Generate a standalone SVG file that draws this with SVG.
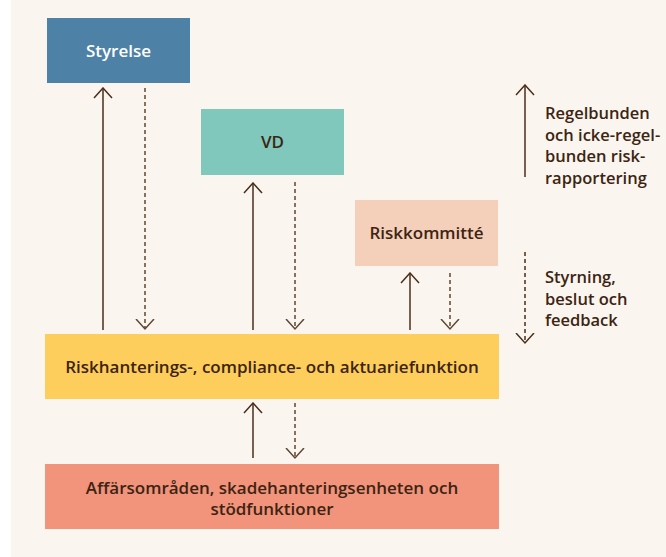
<svg xmlns="http://www.w3.org/2000/svg" width="666" height="557" viewBox="0 0 666 557">
<defs>
<marker id="headS" viewBox="0 0 12 20" refX="10.5" refY="10" markerWidth="12" markerHeight="20" markerUnits="userSpaceOnUse" orient="auto">
<path d="M0.5,1 L10.5,10 L0.5,19" fill="none" stroke="#4a2e1a" stroke-width="1.5"/>
</marker>
<marker id="headD" viewBox="0 0 12 20" refX="10.5" refY="10" markerWidth="12" markerHeight="20" markerUnits="userSpaceOnUse" orient="auto">
<path d="M0.5,1 L10.5,10 L0.5,19" fill="none" stroke="#5e4633" stroke-width="1.5"/>
</marker>
</defs>
<style>
.t{font-family:"Open Sans","Liberation Sans",sans-serif;font-weight:600;font-size:17px;fill:#3d2412;text-anchor:middle}
.lg{font-family:"Open Sans","Liberation Sans",sans-serif;font-weight:600;font-size:16.5px;fill:#3d2412}
.s{stroke:#4a2e1a;stroke-width:1.5;fill:none}
.d{stroke:#7a6450;stroke-width:1.8;stroke-dasharray:4 3;fill:none}
.dl{stroke:#4a2e1a;stroke-width:1.5;stroke-dasharray:4 3;fill:none}
</style>
<rect x="0" y="0" width="666" height="557" fill="#ffffff"/>
<rect x="11" y="0" width="655" height="557" fill="#faf6ef"/>
<g id="styrelse"><rect x="47" y="18" width="143" height="65" fill="#4e81a6"/><text class="t" x="118.5" y="57" style="fill:#ffffff">Styrelse</text></g>
<g id="vd"><rect x="201" y="109" width="143" height="66" fill="#80c8bc"/><text class="t" x="272.5" y="148">VD</text></g>
<g id="riskkommitte"><rect x="355" y="200" width="143" height="66" fill="#f4d0ba"/><text class="t" x="426.5" y="239">Riskkommitté</text></g>
<g id="riskhantering"><rect x="45" y="334" width="454" height="65" fill="#fdce5c"/><text class="t" x="272" y="373">Riskhanterings-, compliance- och aktuariefunktion</text></g>
<g id="affarsomraden"><rect x="45" y="464" width="454" height="65" fill="#f2937b"/><text class="t" x="272" y="494">Affärsområden, skadehanteringsenheten och</text><text class="t" x="272" y="515">stödfunktioner</text></g>
<g id="connectors">
<line class="s" x1="103" y1="330" x2="103" y2="88" marker-end="url(#headS)"/>
<line class="d" x1="145" y1="88" x2="145" y2="329" marker-end="url(#headD)"/>
<line class="s" x1="253" y1="330" x2="253" y2="183" marker-end="url(#headS)"/>
<line class="d" x1="295" y1="182" x2="295" y2="329" marker-end="url(#headD)"/>
<line class="s" x1="410" y1="330" x2="410" y2="273" marker-end="url(#headS)"/>
<line class="d" x1="450" y1="273" x2="450" y2="329" marker-end="url(#headD)"/>
<line class="s" x1="253" y1="458" x2="253" y2="403" marker-end="url(#headS)"/>
<line class="d" x1="295" y1="403" x2="295" y2="458" marker-end="url(#headD)"/>
</g>
<g id="legend">
<line class="s" x1="525" y1="177" x2="525" y2="85" marker-end="url(#headS)"/>
<text class="lg" x="545" y="119">Regelbunden</text>
<text class="lg" x="545" y="141">och icke-regel-</text>
<text class="lg" x="545" y="162">bunden risk-</text>
<text class="lg" x="545" y="184">rapportering</text>
<line class="dl" x1="525" y1="252" x2="525" y2="343" marker-end="url(#headS)"/>
<text class="lg" x="545" y="283">Styrning,</text>
<text class="lg" x="545" y="305">beslut och</text>
<text class="lg" x="545" y="326">feedback</text>
</g>
</svg>
